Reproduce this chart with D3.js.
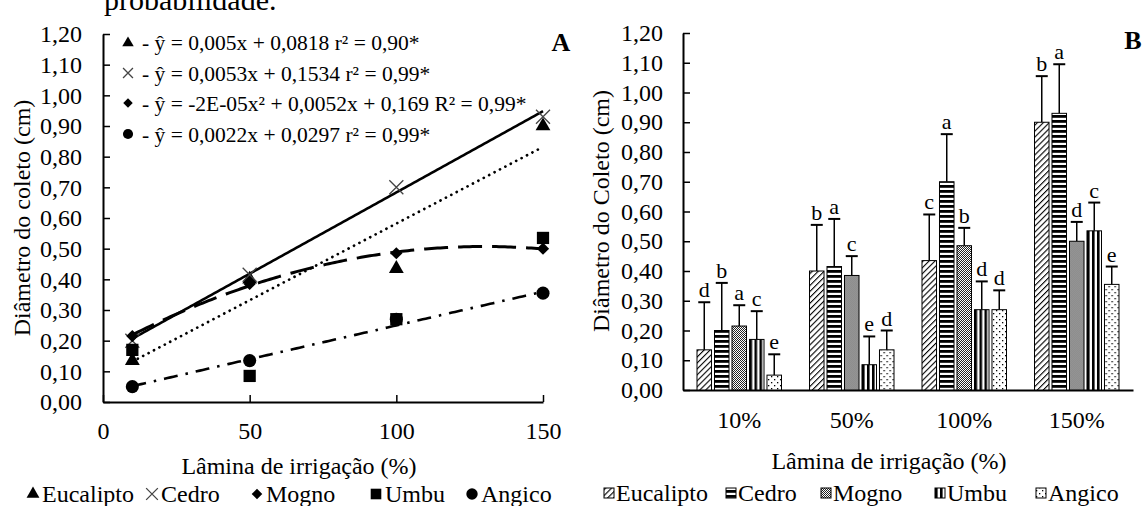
<!DOCTYPE html>
<html>
<head>
<meta charset="utf-8">
<script src="https://cdn.jsdelivr.net/npm/d3@7"></script>
<style>
  html, body { margin: 0; padding: 0; background: #fff; }
  svg { display: block; font-family: "Liberation Serif", "Times New Roman", serif; }
</style>
</head>
<body>
<svg id="chart" width="1143" height="506"></svg>
<script>
// Irrigation levels (% of reference) and their category labels
const levels = [10, 50, 100, 150];
const categories = ["10%", "50%", "100%", "150%"];
const species = ["Eucalipto", "Cedro", "Mogno", "Umbu", "Angico"];

// Mean collar diameter (cm) per species and irrigation level
const eucalipto = [0.135, 0.40, 0.435, 0.90];
const cedro     = [0.20, 0.415, 0.70, 0.93];
const mogno     = [0.215, 0.385, 0.485, 0.50];
const umbu      = [0.17, 0.085, 0.27, 0.535];
const angico    = [0.05, 0.135, 0.27, 0.355];

// Standard deviations (upper error bars)
const eucaliptoSd = [0.16, 0.155, 0.155, 0.155];
const cedroSd     = [0.16, 0.16, 0.16, 0.165];
const mognoSd     = [0.07, 0.065, 0.06, 0.065];
const umbuSd      = [0.095, 0.095, 0.095, 0.095];
const angicoSd    = [0.07, 0.065, 0.065, 0.06];

// Mean comparison letters
const eucaliptoLetters = ["d", "b", "c", "b"];
const cedroLetters     = ["b", "a", "a", "a"];
const mognoLetters     = ["a", "c", "b", "d"];
const umbuLetters      = ["c", "e", "d", "c"];
const angicoLetters    = ["e", "d", "d", "e"];

// Fitted regression coefficients [c0, c1, c2] for y = c0 + c1*x + c2*x^2
const eucaliptoFit = [0.0818, 0.005, 0];
const cedroFit     = [0.1534, 0.0053, 0];
const mognoFit     = [0.169, 0.0052, -0.00002];
const angicoFit    = [0.0297, 0.0022, 0];

const equations = [
  "- ŷ = 0,005x + 0,0818 r² = 0,90*",
  "- ŷ = 0,0053x + 0,1534 r² = 0,99*",
  "- ŷ = -2E-05x² + 0,0052x + 0,169 R² = 0,99*",
  "- ŷ = 0,0022x + 0,0297 r² = 0,99*"
];

const yTicks = [0, 0.1, 0.2, 0.3, 0.4, 0.5, 0.6, 0.7, 0.8, 0.9, 1.0, 1.1, 1.2];
const xTicks = [0, 50, 100, 150];

const means = [eucalipto, cedro, mogno, umbu, angico];
const sds = [eucaliptoSd, cedroSd, mognoSd, umbuSd, angicoSd];
const letters = [eucaliptoLetters, cedroLetters, mognoLetters, umbuLetters, angicoLetters];

const svg = d3.select("#chart");
const fmt = v => d3.format(".2f")(v).replace(".", ",");

// ---------- marker shapes ----------
const symX = {
  draw(ctx, size) {
    const r = Math.sqrt(size) / 2;
    ctx.moveTo(-r, -r); ctx.lineTo(r, r);
    ctx.moveTo(-r, r); ctx.lineTo(r, -r);
  }
};
const markerStyle = {
  Eucalipto: { type: d3.symbolTriangle, size: 95, fill: "#000", stroke: "none" },
  Cedro:     { type: symX, size: 196, fill: "none", stroke: "#444" },
  Mogno:     { type: d3.symbolDiamond2 || d3.symbolDiamond, size: 95, fill: "#000", stroke: "none" },
  Umbu:      { type: d3.symbolSquare, size: 150, fill: "#000", stroke: "none" },
  Angico:    { type: d3.symbolCircle, size: 135, fill: "#000", stroke: "none" }
};
function drawMarker(g, name, x, y, scale) {
  const m = markerStyle[name];
  g.append("path")
    .attr("transform", `translate(${x},${y})`)
    .attr("d", d3.symbol().type(m.type).size(m.size * (scale || 1))())
    .attr("fill", m.fill)
    .attr("stroke", m.stroke)
    .attr("stroke-width", m.stroke === "none" ? 0 : 1.3);
}

// ---------- top text line ----------
svg.append("text")
  .attr("x", 104).attr("y", 10)
  .attr("font-size", 30)
  .text("probabilidade.");

// =================== Panel A: regression ===================
const xA = d3.scaleLinear().domain([0, 150]).range([103, 543]);
const yA = d3.scaleLinear().domain([0, 1.2]).range([402, 34]);
const gA = svg.append("g");

const axisYA = gA.append("g")
  .attr("transform", `translate(${xA(0)},0)`)
  .call(d3.axisLeft(yA).tickValues(yTicks).tickFormat(fmt).tickSize(-7).tickSizeOuter(0).tickPadding(21));
const axisXA = gA.append("g")
  .attr("transform", `translate(0,${yA(0)})`)
  .call(d3.axisBottom(xA).tickValues(xTicks).tickSize(-7).tickSizeOuter(0).tickPadding(20));
[axisYA, axisXA].forEach(a => {
  a.selectAll("text").attr("font-size", 24).attr("font-family", "Liberation Serif").attr("fill", "#000");
  a.select(".domain").attr("stroke", "#000").attr("stroke-width", 2);
  a.selectAll(".tick line").attr("stroke", "#000").attr("stroke-width", 1.5);
});

// regression curves
const fitLines = [
  { fit: cedroFit, dash: null, width: 2.6 },
  { fit: eucaliptoFit, dash: "0.1,6", width: 2.7, cap: "round" },
  { fit: mognoFit, dash: "24,10", width: 3 },
  { fit: angicoFit, dash: "14,8,2.5,8", width: 2.6 }
];
const line = d3.line().x(d => xA(d[0])).y(d => yA(d[1]));
fitLines.forEach(f => {
  const pts = d3.range(levels[0], levels[levels.length - 1] + 0.001, 1)
    .map(v => [v, f.fit[0] + f.fit[1] * v + f.fit[2] * v * v]);
  gA.append("path")
    .attr("d", line(pts))
    .attr("fill", "none")
    .attr("stroke", "#000")
    .attr("stroke-width", f.width)
    .attr("stroke-dasharray", f.dash)
    .attr("stroke-linecap", f.cap || "butt");
});

// observed means
const drawOrder = [4, 0, 1, 2, 3];
drawOrder.forEach(si => {
  levels.forEach((lv, i) => drawMarker(gA, species[si], xA(lv), yA(means[si][i])));
});

// equations block
const eqSpecies = ["Eucalipto", "Cedro", "Mogno", "Angico"];
const eqY = [42, 73, 103, 134];
eqSpecies.forEach((name, i) => {
  drawMarker(gA, name, 128, eqY[i] + (name === "Eucalipto" ? 1 : 0), name === "Cedro" ? 0.5 : 0.6);
  gA.append("text")
    .attr("x", 142).attr("y", eqY[i]).attr("dy", "0.35em")
    .attr("font-size", 21.5)
    .text(equations[i]);
});

gA.append("text").attr("x", 561).attr("y", 42).attr("dy", "0.35em")
  .attr("text-anchor", "middle").attr("font-size", 26).attr("font-weight", "bold").text("A");

gA.append("text")
  .attr("transform", "translate(22,218) rotate(-90)")
  .attr("text-anchor", "middle").attr("dy", "0.35em").attr("font-size", 24)
  .text("Diâmetro do coleto (cm)");
gA.append("text")
  .attr("x", 299).attr("y", 466).attr("dy", "0.35em")
  .attr("text-anchor", "middle").attr("font-size", 24)
  .text("Lâmina de irrigação (%)");

// legend A
const legAx = [33, 152, 257, 376, 472];
species.forEach((name, i) => {
  drawMarker(gA, name, legAx[i], 494, name === "Cedro" ? 0.7 : 0.75);
  gA.append("text").attr("x", legAx[i] + 9).attr("y", 494).attr("dy", "0.35em")
    .attr("font-size", 24).text(name);
});

// =================== Panel B: bars ===================
const defs = svg.append("defs");
function pattern(id, w, h, transform) {
  const p = defs.append("pattern").attr("id", id)
    .attr("patternUnits", "userSpaceOnUse").attr("width", w).attr("height", h);
  if (transform) p.attr("patternTransform", transform);
  p.append("rect").attr("width", w).attr("height", h).attr("fill", "#fff");
  return p;
}
pattern("p-diag", 4.2, 4.2, "rotate(45)")
  .append("rect").attr("x", 0).attr("y", 0).attr("width", 1.1).attr("height", 4.2).attr("fill", "#000");
pattern("p-horiz", 6, 5)
  .append("rect").attr("x", 0).attr("y", 0).attr("width", 6).attr("height", 2.8).attr("fill", "#000");
const chk = pattern("p-check", 2, 2);
chk.append("rect").attr("x", 0).attr("y", 0).attr("width", 1).attr("height", 1).attr("fill", "#222");
chk.append("rect").attr("x", 1).attr("y", 1).attr("width", 1).attr("height", 1).attr("fill", "#222");
pattern("p-vert", 5, 6)
  .append("rect").attr("x", 0).attr("y", 0).attr("width", 2.6).attr("height", 6).attr("fill", "#000");
const dots = pattern("p-dots", 6, 6);
dots.append("rect").attr("x", 1).attr("y", 1).attr("width", 1.3).attr("height", 1.3).attr("fill", "#000");
dots.append("rect").attr("x", 4).attr("y", 4).attr("width", 1.3).attr("height", 1.3).attr("fill", "#000");
const fills = ["url(#p-diag)", "url(#p-horiz)", "url(#p-check)", "url(#p-vert)", "url(#p-dots)"];

const x0 = d3.scaleBand().domain(categories).range([683, 1133]);
const x1 = d3.scaleBand().domain(species).range([0, x0.bandwidth()]).paddingInner(0.17).paddingOuter(0.8);
const yB = d3.scaleLinear().domain([0, 1.2]).range([390, 33]);
const gB = svg.append("g");

const axisYB = gB.append("g")
  .attr("transform", `translate(683,0)`)
  .call(d3.axisLeft(yB).tickValues(yTicks).tickFormat(fmt).tickSize(-7).tickSizeOuter(0).tickPadding(20));
const axisXB = gB.append("g")
  .attr("transform", `translate(0,${yB(0)})`)
  .call(d3.axisBottom(x0).tickSize(0).tickSizeOuter(0).tickPadding(21));
[axisYB, axisXB].forEach(a => {
  a.selectAll("text").attr("font-size", 24).attr("font-family", "Liberation Serif").attr("fill", "#000");
  a.select(".domain").attr("stroke", "#000").attr("stroke-width", 2);
  a.selectAll(".tick line").attr("stroke", "#000").attr("stroke-width", 1.5);
});

const rows = [];
categories.forEach((c, ci) => species.forEach((s, si) => rows.push({ c, ci, s, si })));
const bw = x1.bandwidth();
const bars = gB.append("g").selectAll("g").data(rows).join("g")
  .attr("transform", d => `translate(${x0(d.c) + x1(d.s)},0)`);
// error bars
bars.append("line")
  .attr("x1", bw / 2).attr("x2", bw / 2)
  .attr("y1", d => yB(means[d.si][d.ci]))
  .attr("y2", d => yB(means[d.si][d.ci] + sds[d.si][d.ci]))
  .attr("stroke", "#000").attr("stroke-width", 1.5);
bars.append("line")
  .attr("x1", bw / 2 - 6).attr("x2", bw / 2 + 6)
  .attr("y1", d => yB(means[d.si][d.ci] + sds[d.si][d.ci]))
  .attr("y2", d => yB(means[d.si][d.ci] + sds[d.si][d.ci]))
  .attr("stroke", "#000").attr("stroke-width", 2);
bars.append("rect")
  .attr("x", 0).attr("width", bw)
  .attr("y", d => yB(means[d.si][d.ci]))
  .attr("height", d => yB(0) - yB(means[d.si][d.ci]))
  .attr("fill", d => fills[d.si])
  .attr("stroke", "#000").attr("stroke-width", 1);
bars.append("text")
  .attr("x", bw / 2)
  .attr("y", d => yB(means[d.si][d.ci] + sds[d.si][d.ci]) - 5)
  .attr("text-anchor", "middle").attr("font-size", 22)
  .text(d => letters[d.si][d.ci]);

gB.append("text").attr("x", 1133).attr("y", 40).attr("dy", "0.35em")
  .attr("text-anchor", "middle").attr("font-size", 26).attr("font-weight", "bold").text("B");
gB.append("text")
  .attr("transform", "translate(601,211) rotate(-90)")
  .attr("text-anchor", "middle").attr("dy", "0.35em").attr("font-size", 24)
  .text("Diâmetro do Coleto (cm)");
gB.append("text")
  .attr("x", 889).attr("y", 461).attr("dy", "0.35em")
  .attr("text-anchor", "middle").attr("font-size", 24)
  .text("Lâmina de irrigação (%)");

// legend B
const legBx = [604, 726, 821, 935, 1036];
species.forEach((name, i) => {
  gB.append("rect").attr("x", legBx[i]).attr("y", 488).attr("width", 10).attr("height", 10)
    .attr("fill", fills[i]).attr("stroke", "#000").attr("stroke-width", 1);
  gB.append("text").attr("x", legBx[i] + 12).attr("y", 493).attr("dy", "0.35em")
    .attr("font-size", 24).text(name);
});
</script>
</body>
</html>
